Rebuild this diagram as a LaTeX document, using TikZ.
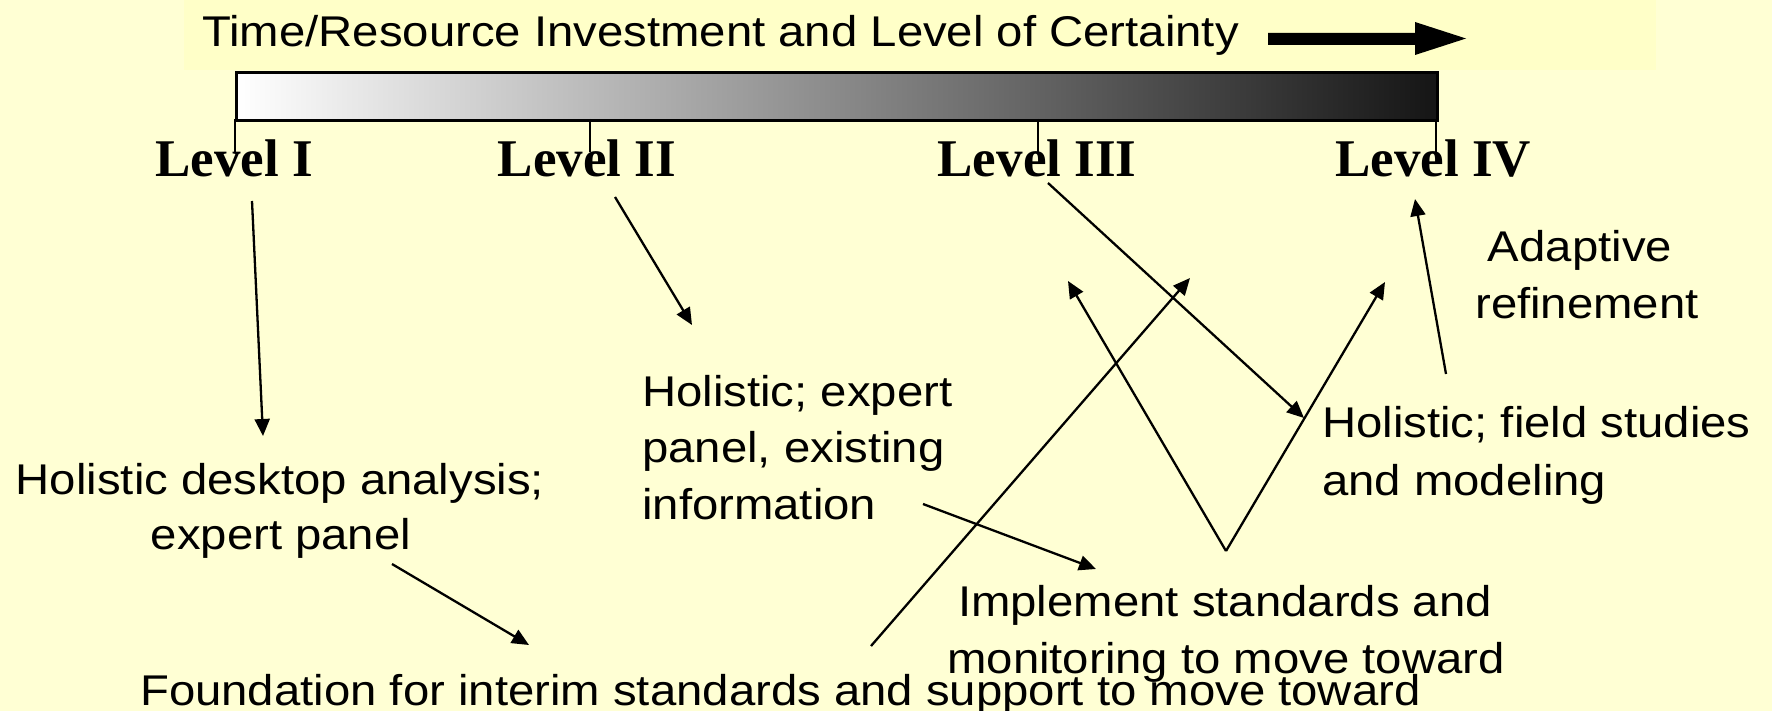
\documentclass[tikz,border=0pt]{standalone}
\usepackage{fontspec}
\newfontfamily\labelfont{Liberation Sans}[FakeStretch=1.1]
\newfontfamily\levelfont{Liberation Serif}
\usetikzlibrary{arrows.meta}

\definecolor{paper}{HTML}{FFFFD4}
\definecolor{band}{HTML}{FFFFC8}
\definecolor{barend}{HTML}{151515}

\begin{document}
\begin{tikzpicture}[x=1pt,y=-1pt,
  txt/.style={font=\labelfont\fontsize{43}{56}\selectfont, inner sep=0pt, anchor=base},
  txtl/.style={txt, anchor=base west},
  lvl/.style={font=\levelfont\bfseries\fontsize{53}{60}\selectfont, inner sep=0pt, anchor=base},
  link/.style={line width=2.3pt, -{Triangle[length=17pt,width=15pt]}},
  tickline/.style={line width=2.5pt}]

% page and heading band
\fill[paper] (0,0) rectangle (1772,711);
\useasboundingbox (0,0) rectangle (1772,711);
\clip (0,0) rectangle (1772,711);
\fill[band] (184,0) rectangle (1656,70);

% heading with its bold arrow
\node[txtl] (title) at (202,47) {Time/Resource Investment and Level of Certainty};
\fill (1268,33) -- (1415,33) -- (1415,22) -- (1466,38.5) -- (1415,55) -- (1415,45) -- (1268,45) -- cycle;

% shaded scale bar
\node[draw, line width=3pt, left color=white, right color=barend,
      minimum width=1201pt, minimum height=48pt, inner sep=0pt,
      anchor=north west] (bar) at (235,71) {};

% tick marks
\coordinate (t1) at (235,119);  \coordinate (b1) at (235,152);
\coordinate (t2) at (590,119);  \coordinate (b2) at (590,152);
\coordinate (t3) at (1038,119); \coordinate (b3) at (1038,152);
\coordinate (t4) at (1436,119); \coordinate (b4) at (1436,152);
\draw[tickline] (t1) -- (b1);
\draw[tickline] (t2) -- (b2);
\draw[tickline] (t3) -- (b3);
\draw[tickline] (t4) -- (b4);

% level labels
\node[lvl] (lv1) at (234,177) {Level I};
\node[lvl] (lv2) at (587,177) {Level II};
\node[lvl] (lv3) at (1037,177) {Level III};
\node[lvl] (lv4) at (1433,177) {Level IV};

% descriptions
\node[txt] (desk1) at (280,494) {Holistic desktop analysis;};
\node[txt] (desk2) at (281,549) {expert panel};

\node[txtl] (exp1) at (642,406) {Holistic; expert};
\node[txtl] (exp2) at (642,462) {panel, existing};
\node[txtl] (exp3) at (642,519) {information};

\node[txtl] (fld1) at (1322,437) {Holistic; field studies};
\node[txtl] (fld2) at (1322,495) {and modeling};

\node[txt] (ada1) at (1580,262) {Adaptive};
\node[txt] (ada2) at (1587,318) {refinement};

\node[txt] (imp1) at (1225,616) {Implement standards and};
\node[txt] (imp2) at (1226,673) {monitoring to move toward};

\node[txtl] (fnd) at (140,705) {Foundation for interim standards and support to move toward};

% arrow end points
\coordinate (a1s) at (252,201);  \coordinate (a1e) at (263,436);
\coordinate (a2s) at (615,197);  \coordinate (a2e) at (692,325);
\coordinate (a3s) at (392,564);  \coordinate (a3e) at (529,645);
\coordinate (a4s) at (871,646);  \coordinate (a4e) at (1190,278);
\coordinate (a5s) at (1048,183); \coordinate (a5e) at (1304,418);
\coordinate (vtx) at (1226,551);
\coordinate (a6l) at (1068,281); \coordinate (a6r) at (1385,282);
\coordinate (a7s) at (923,504);  \coordinate (a7e) at (1096,569);
\coordinate (a8s) at (1446,374); \coordinate (a8e) at (1415,199);

% connectors
\draw[link] (a1s) -- (a1e);
\draw[link] (a2s) -- (a2e);
\draw[link] (a3s) -- (a3e);
\draw[link] (a4s) -- (a4e);
\draw[link] (a5s) -- (a5e);
\draw[link] (vtx) -- (a6l);
\draw[link] (vtx) -- (a6r);
\draw[link] (a7s) -- (a7e);
\draw[link] (a8s) -- (a8e);
\end{tikzpicture}
\end{document}
